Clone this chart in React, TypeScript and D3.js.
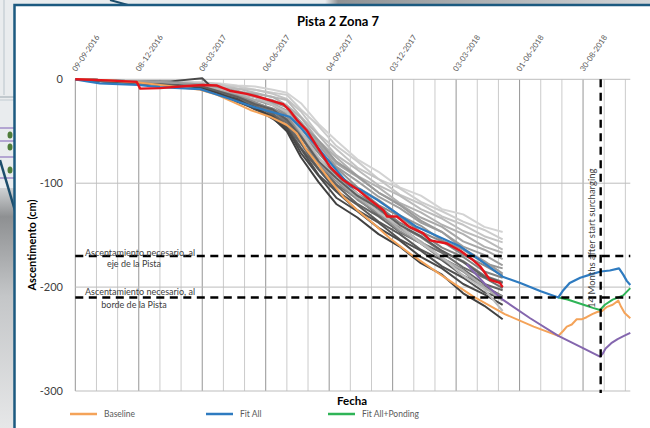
import React from 'react';
import * as d3 from 'd3';

// ---------- data ----------
const TICK_DAYS = [0, 90, 180, 270, 360, 450, 540, 630, 720];
const TICK_LABELS = ['09-09-2016', '08-12-2016', '08-03-2017', '06-06-2017', '04-09-2017', '03-12-2017', '03-03-2018', '01-06-2018', '30-08-2018'];
const Y_TICKS = [0, -100, -200, -300];
const LIMIT_AXIS = -170;
const LIMIT_EDGE = -210;
const SURCHARGE_DAY = 745;

const GRAY_DAYS = [0, 45, 90, 135, 180, 205, 230, 255, 280, 300, 320, 345, 370, 400, 430, 460, 490, 520, 550, 580, 606];
const GRAY_SERIES = [
  [0, -1, -2, -2, -3, -4, -6, -7, -10, -13, -23, -43, -59, -77, -89, -104, -112, -125, -130, -142, -147],
  [0, -1, -1, -3, -4, -6, -7, -10, -13, -15, -29, -45, -64, -79, -96, -105, -118, -127, -137, -145, -154],
  [0, -1, -2, -3, -3, -5, -9, -10, -14, -19, -31, -53, -67, -85, -96, -111, -120, -132, -140, -151, -157],
  [0, -1, -2, -4, -5, -8, -9, -13, -17, -20, -36, -54, -73, -87, -102, -112, -125, -134, -146, -154, -164],
  [0, -1, -3, -3, -5, -8, -12, -14, -17, -25, -37, -59, -75, -93, -104, -119, -128, -140, -149, -161, -167],
  [0, -1, -2, -4, -6, -9, -11, -17, -20, -26, -41, -61, -81, -94, -109, -120, -133, -142, -156, -164, -173],
  [0, -2, -3, -4, -6, -10, -14, -17, -24, -30, -45, -63, -84, -98, -113, -124, -138, -147, -161, -169, -179],
  [0, -1, -3, -5, -7, -11, -16, -20, -25, -34, -47, -69, -85, -104, -116, -131, -141, -155, -164, -177, -182],
  [0, -2, -3, -5, -7, -12, -16, -23, -28, -35, -51, -71, -91, -105, -121, -132, -147, -156, -169, -179, -189],
  [0, -1, -3, -5, -8, -13, -18, -23, -31, -38, -53, -76, -92, -110, -122, -138, -148, -162, -171, -185, -191],
  [0, -2, -4, -6, -8, -13, -19, -26, -31, -41, -56, -80, -96, -113, -126, -141, -152, -166, -175, -189, -195],
  [0, -1, -3, -5, -7, -14, -20, -25, -34, -42, -61, -81, -101, -115, -131, -142, -157, -167, -181, -191, -201],
  [0, -2, -4, -6, -9, -13, -20, -27, -33, -45, -62, -86, -102, -120, -132, -147, -158, -172, -183, -197, -203],
  [0, -1, -3, -5, -8, -15, -21, -29, -35, -46, -66, -87, -107, -121, -137, -149, -164, -174, -189, -199, -209],
  [0, -2, -3, -6, -9, -14, -22, -28, -38, -48, -67, -92, -108, -126, -138, -154, -165, -180, -191, -205, -211],
  [0, -1, -2, -2, 1, -15, -19, -29, -36, -47, -71, -93, -114, -127, -143, -155, -171, -182, -197, -207, -217],
  [0, -1, -3, -5, -8, -14, -21, -27, -37, -50, -75, -99, -120, -133, -149, -161, -177, -188, -206, -218, -231],
  [0, -1, -3, -4, -6, -11, -15, -22, -29, -36, -54, -81, -98, -116, -129, -146, -158, -173, -185, -201, -209],
  [0, -1, -2, -4, -6, -10, -14, -20, -23, -32, -51, -79, -96, -114, -127, -144, -156, -172, -184, -200, -213],
  [0, -1, -2, -3, -5, -9, -13, -17, -25, -31, -50, -75, -96, -110, -128, -141, -158, -171, -189, -202, -223],
  [0, -2, -3, -5, -7, -12, -17, -24, -29, -39, -55, -79, -95, -112, -124, -140, -151, -165, -176, -190, -196],
  [0, -1, -2, -3, -5, -8, -12, -15, -22, -27, -43, -59, -79, -93, -109, -121, -136, -147, -163, -175, -187],
];
const GRAY_SHADES = ['#d3d3d3', '#cccccc', '#c4c4c4', '#bababa', '#b1b1b1', '#a7a7a7', '#9f9f9f', '#969696', '#8a8a8a', '#828282', '#787878', '#6e6e6e', '#656565', '#5b5b5b', '#525252', '#494949', '#404040', '#8f8f8f', '#adadad', '#bdbdbd', '#5f5f5f', '#9b9b9b'];

const RED_DAYS = [0, 45, 87, 92, 120, 158, 181, 201, 219, 243, 265, 280, 295, 304, 314, 328, 343, 361, 380, 400, 418, 437, 442, 456, 474, 493, 503, 527, 546, 564, 574, 588, 602, 606];
const RED_VALUES = [0, -1, -2.5, -9, -8.5, -6.5, -5.5, -6, -11, -14, -18, -21, -24, -30, -39, -49, -65, -84, -97, -106, -116, -126, -132, -132, -142, -148, -155, -158, -165, -174, -180, -193, -196, -200];

const BLUE_DAYS = [0, 17, 35, 89, 120, 177, 195, 224, 252, 276, 304, 319, 343, 366, 390, 404, 428, 456, 484, 517, 546, 574, 592, 606, 631, 660, 685, 692, 701, 716, 730, 745, 758, 771, 777, 782, 787];
const BLUE_VALUES = [0, -2, -4, -5.5, -7.5, -9.5, -13.5, -20, -26.5, -31, -36, -46, -65, -84, -103, -106, -116, -129, -142, -152, -161, -174, -183, -190, -196, -204, -210, -203, -196, -191, -188, -185, -184, -182, -188, -194, -198];

const GREEN_DAYS = [685, 698, 712, 725, 734, 744, 751, 762, 777, 787];
const GREEN_VALUES = [-210, -212, -215, -218, -220, -222, -217, -212, -208, -201];

const ORANGE_DAYS = [0, 45, 90, 139, 177, 201, 224, 248, 276, 300, 314, 328, 343, 361, 380, 400, 423, 446, 475, 520, 564, 609, 650, 685, 692, 697, 704, 711, 718, 725, 733, 740, 747, 754, 762, 770, 774, 779, 787];
const ORANGE_VALUES = [0, -1, -3, -7, -10, -15, -22, -29.5, -36, -44, -52, -68, -81, -97, -113, -126, -139, -153, -168, -189, -209, -226, -238, -247, -242, -238, -236, -231, -231, -229, -226, -224, -223, -219, -217, -213, -219, -225, -230];

const PURPLE_DAYS = [555, 581, 606, 645, 685, 715, 744, 748, 752, 760, 769, 778, 787];
const PURPLE_VALUES = [-178, -197, -212, -230, -247, -257, -267, -264, -259, -254, -250, -247, -244];

const LEGEND_LABELS = ['Baseline', 'Fit All', 'Fit All+Ponding'];

// ---------- chart ----------
const FONT = 'Lato, "Open Sans", "Liberation Sans", sans-serif';

export default function App() {
  const x = d3.scaleLinear().domain([0, 787]).range([75.3, 630.3]);
  const y = d3.scaleLinear().domain([0, -300]).range([79.3, 391]);
  const line = (days: number[], vals: number[]) =>
    d3.line<number>().x((_, i) => x(days[i])).y((v) => y(v))(vals) || '';

  const gridDays = d3.range(0, 781, 30);
  const legendColors = ['#f4a359', '#2e7bc0', '#2fb457'];
  const legendX = [70, 206, 328];

  return (
    <svg width={650} height={428} style={{ position: 'absolute', left: 0, top: 0 }} fontFamily={FONT}>
      <defs>
        <linearGradient id="leftGrad" x1="0" y1="0" x2="0" y2="1">
          <stop offset="0" stopColor="#cfd2d4" />
          <stop offset="0.12" stopColor="#8e9092" />
          <stop offset="0.45" stopColor="#c4c6c8" />
          <stop offset="1" stopColor="#e6e7e8" />
        </linearGradient>
        <linearGradient id="topGrad" x1="0" y1="0" x2="1" y2="0">
          <stop offset="0" stopColor="#e9ecee" />
          <stop offset="0.5" stopColor="#e9ecee" />
          <stop offset="0.52" stopColor="#8f9294" />
          <stop offset="1" stopColor="#d4d6d8" />
        </linearGradient>
      </defs>

      {/* background slide fragment */}
      <rect x={0} y={0} width={650} height={428} fill="#e9ecee" />
      <rect x={0} y={0} width={650} height={6} fill="url(#topGrad)" />
      <rect x={0} y={188} width={16} height={240} fill="url(#leftGrad)" />
      <line x1={4} y1={0} x2={4} y2={95} stroke="#b9c4cb" strokeWidth={1} />
      <line x1={0} y1={97} x2={16} y2={97} stroke="#9aa6ae" strokeWidth={1} />
      <line x1={0} y1={100} x2={16} y2={100} stroke="#c2cbd1" strokeWidth={1} />
      {[128, 141, 157, 178].map((yy) => (
        <line key={yy} x1={0} y1={yy} x2={16} y2={yy} stroke="#9077c0" strokeWidth={1.2} />
      ))}
      {[135, 147, 170].map((yy) => (
        <ellipse key={yy} cx={10} cy={yy} rx={2.5} ry={3.5} fill="#4f7d3a" />
      ))}
      <line x1={0} y1={160} x2={16} y2={214} stroke="#1d4e6c" strokeWidth={2.5} />
      <line x1={110} y1={0} x2={128} y2={5} stroke="#1d4e6c" strokeWidth={2} />

      {/* chart frame */}
      <rect x={14.5} y={5} width={700} height={500} fill="#ffffff" stroke="#1c5a80" strokeWidth={2.5} />

      {/* title */}
      <text x={338} y={26} textAnchor="middle" fontSize={13} fontWeight="bold" fill="#000">Pista 2 Zona 7</text>

      {/* grid */}
      {gridDays.map((d) => (
        <line key={'g' + d} x1={x(d)} x2={x(d)} y1={y(0)} y2={y(-300)}
          stroke={d % 90 === 0 ? '#959595' : '#cbcbcb'} strokeWidth={1} />
      ))}
      {Y_TICKS.map((v) => (
        <line key={'h' + v} x1={x(0)} x2={x(787)} y1={y(v)} y2={y(v)} stroke="#bdbdbd" strokeWidth={1} />
      ))}

      {/* y tick labels */}
      {Y_TICKS.map((v) => (
        <text key={'yt' + v} x={63} y={y(v)} dy="0.35em" textAnchor="end" fontSize={11} fill="#404040">{v}</text>
      ))}

      {/* x tick labels */}
      {TICK_DAYS.map((d, i) => (
        <text key={'xt' + d} transform={`translate(${x(d) + 1},72) rotate(-56)`} fontSize={7.8} fill="#595959">{TICK_LABELS[i]}</text>
      ))}

      {/* measured settlement series */}
      {GRAY_SERIES.map((vals, i) => (
        <path key={'s' + i} d={line(GRAY_DAYS, vals)} fill="none" stroke={GRAY_SHADES[i]} strokeWidth={2} strokeLinejoin="round" />
      ))}

      {/* fits */}
      <path d={line(ORANGE_DAYS, ORANGE_VALUES)} fill="none" stroke="#f4a359" strokeWidth={2} strokeLinejoin="round" />
      <path d={line(PURPLE_DAYS, PURPLE_VALUES)} fill="none" stroke="#8466ae" strokeWidth={2} strokeLinejoin="round" />
      <path d={line(GREEN_DAYS, GREEN_VALUES)} fill="none" stroke="#2fb457" strokeWidth={2} strokeLinejoin="round" />
      <path d={line(BLUE_DAYS, BLUE_VALUES)} fill="none" stroke="#2e7bc0" strokeWidth={2.2} strokeLinejoin="round" />
      <path d={line(RED_DAYS, RED_VALUES)} fill="none" stroke="#e3141c" strokeWidth={2.4} strokeLinejoin="round" />

      {/* required settlement lines */}
      {[LIMIT_AXIS, LIMIT_EDGE].map((v) => (
        <line key={'lim' + v} x1={x(0)} x2={x(787)} y1={y(v)} y2={y(v)} stroke="#000" strokeWidth={2.4} strokeDasharray="8,5.5" />
      ))}
      <line x1={x(SURCHARGE_DAY)} x2={x(SURCHARGE_DAY)} y1={y(0)} y2={y(-302)} stroke="#000" strokeWidth={2.4} strokeDasharray="8,5.5" />

      {/* annotations */}
      <text x={140} y={y(LIMIT_AXIS) + 0.5} textAnchor="middle" fontSize={9} fill="#404040">Ascentamiento necesario, al</text>
      <text x={134} y={y(LIMIT_AXIS) + 11} textAnchor="middle" fontSize={9} fill="#404040">eje de la Pista</text>
      <text x={140} y={y(LIMIT_EDGE) - 2.5} textAnchor="middle" fontSize={9} fill="#404040">Ascentamiento necesario, al</text>
      <text x={134} y={y(LIMIT_EDGE) + 11} textAnchor="middle" fontSize={9} fill="#404040">borde de la Pista</text>
      <text transform={`translate(${x(SURCHARGE_DAY) - 6},308) rotate(-90)`} fontSize={9.5} fill="#404040">14 Months after start surcharging</text>

      {/* axis titles */}
      <text transform="translate(36,245) rotate(-90)" textAnchor="middle" fontSize={11} fontWeight="bold" fill="#000">Ascentimento (cm)</text>
      <text x={352} y={405} textAnchor="middle" fontSize={11.5} fontWeight="bold" fill="#000">Fecha</text>

      {/* legend */}
      {LEGEND_LABELS.map((lab, i) => (
        <g key={lab}>
          <line x1={legendX[i]} x2={legendX[i] + 27} y1={414} y2={414} stroke={legendColors[i]} strokeWidth={2.5} />
          <text x={legendX[i] + 34} y={417} fontSize={8.5} fill="#595959">{lab}</text>
        </g>
      ))}
    </svg>
  );
}
